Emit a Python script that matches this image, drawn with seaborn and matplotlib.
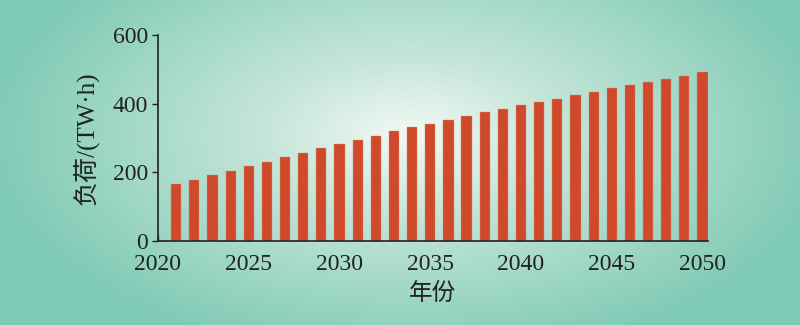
import numpy as np
import pandas as pd
import matplotlib
matplotlib.use("Agg")
import matplotlib.pyplot as plt
import seaborn as sns
from matplotlib.colors import LinearSegmentedColormap

years = list(range(2021, 2051))
load = [166, 179, 191, 204, 217, 230, 244, 256, 270, 282,
        294, 307, 319, 331, 342, 353, 364, 375, 385, 395,
        406, 415, 425, 435, 445, 453, 463, 473, 482, 492]
xticks = [2020, 2025, 2030, 2035, 2040, 2045, 2050]
yticks = [0, 200, 400, 600]

df = pd.DataFrame({"year": years, "load": load})

sns.set_theme(style="ticks")
plt.rcParams["font.family"] = ["Liberation Serif", "Noto Sans CJK SC", "DejaVu Sans"]

fig = plt.figure(figsize=(8, 3.25), dpi=100)

# background radial gradient
bg = fig.add_axes([0, 0, 1, 1], zorder=-10)
W, H = 800, 325
xx, yy = np.meshgrid(np.arange(W), np.arange(H))
r = np.sqrt(((xx - 410) / 430.0) ** 2 + ((yy - 135) / 230.0) ** 2)
r = np.clip(r, 0, 1)
cmap = LinearSegmentedColormap.from_list("g", ["#f2f9f5", "#c6e6da", "#a2d8c7", "#7ecab4"])
bg.imshow(r, cmap=cmap, vmin=0, vmax=1, aspect="auto", extent=[0, 1, 0, 1], origin="upper")
bg.axis("off")

ax = fig.add_axes([158 / W, 1 - 241 / H, (708 - 158) / W, (241 - 35) / H])
ax.patch.set_alpha(0)

sns.barplot(data=df, x="year", y="load", ax=ax, native_scale=True,
            color="#cf4a2a", saturation=1, width=0.56, edgecolor="#e08a6e", linewidth=0.3)

ax.set_xlim(2020, 2050.3)
ax.set_ylim(0, 600)
ax.set_xticks(xticks)
ax.set_yticks(yticks)
ax.tick_params(axis="x", labelsize=17, colors="#222222", length=4, width=1, direction="in", pad=9)
ax.tick_params(axis="y", labelsize=17, colors="#222222", length=4, width=1, direction="out", pad=3)
for s in ["top", "right"]:
    ax.spines[s].set_visible(False)
for s in ["left", "bottom"]:
    ax.spines[s].set_color("#222222")
    ax.spines[s].set_linewidth(1.2)

ax.set_xlabel("年份", fontsize=17, color="#222222", labelpad=6)
ax.set_ylabel("负荷/(TW·h)", fontsize=18, color="#222222", labelpad=10)

fig.savefig("out.png", dpi=100)
